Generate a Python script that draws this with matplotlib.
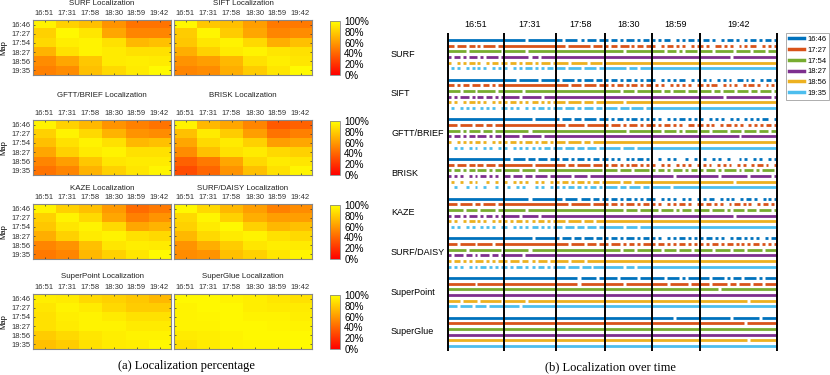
import matplotlib.pyplot as plt
from matplotlib.lines import Line2D
import numpy as np

# Heatmap data: rows = map time, cols = query time, value = % localized
map_times = ['16:46', '17:27', '17:54', '18:27', '18:56', '19:35']
query_times = ['16:51', '17:31', '17:58', '18:30', '18:59', '19:42']
methods = ['SURF', 'SIFT', 'GFTT/BRIEF', 'BRISK', 'KAZE', 'SURF/DAISY', 'SuperPoint', 'SuperGlue']

surf = [[95, 82, 75, 58, 45, 45],
        [82, 97, 90, 65, 52, 52],
        [85, 93, 95, 88, 72, 75],
        [70, 88, 95, 92, 88, 88],
        [55, 65, 78, 92, 93, 92],
        [50, 55, 75, 85, 92, 98]]
sift = [[97, 78, 75, 62, 48, 48],
        [80, 96, 80, 65, 52, 55],
        [78, 90, 95, 85, 68, 75],
        [68, 82, 92, 95, 90, 88],
        [58, 62, 72, 88, 93, 90],
        [52, 55, 68, 80, 90, 98]]
gftt = [[95, 82, 72, 58, 50, 45],
        [82, 95, 85, 70, 58, 55],
        [75, 88, 95, 88, 72, 75],
        [65, 82, 92, 95, 88, 88],
        [52, 62, 78, 90, 92, 92],
        [45, 52, 70, 82, 90, 96]]
brisk = [[95, 72, 65, 52, 35, 38],
         [75, 92, 80, 62, 45, 50],
         [65, 85, 92, 82, 62, 65],
         [55, 75, 88, 92, 85, 82],
         [38, 48, 65, 85, 92, 90],
         [30, 40, 58, 75, 88, 96]]
kaze = [[95, 82, 75, 60, 42, 48],
        [82, 95, 85, 65, 50, 58],
        [78, 90, 95, 85, 65, 70],
        [68, 82, 92, 95, 88, 85],
        [52, 58, 75, 90, 93, 92],
        [48, 52, 72, 82, 90, 98]]
daisy = [[97, 85, 72, 62, 50, 55],
         [85, 96, 82, 68, 62, 62],
         [82, 92, 97, 82, 72, 75],
         [72, 85, 92, 95, 88, 85],
         [58, 68, 80, 90, 93, 92],
         [55, 58, 75, 82, 90, 96]]
superpoint = [[93, 92, 85, 82, 78, 72],
              [90, 95, 92, 85, 80, 80],
              [88, 93, 95, 92, 88, 88],
              [88, 92, 95, 95, 92, 92],
              [80, 85, 90, 93, 95, 95],
              [75, 80, 88, 92, 93, 97]]
superglue = [[97, 97, 95, 93, 90, 88],
             [95, 97, 97, 93, 92, 92],
             [95, 96, 97, 95, 95, 93],
             [95, 95, 97, 97, 96, 95],
             [92, 93, 95, 97, 97, 97],
             [88, 92, 95, 96, 96, 98]]
heatmaps = [surf, sift, gftt, brisk, kaze, daisy, superpoint, superglue]

# Localization over time: frames per query sequence, '#' = localized, '.' = lost
query_frames = [56, 52, 49, 47, 48, 77]
tracks = {
    'SURF': [
        "###################|#######.#########|##.####.#.###.##|#.##.#.###.#.##.|#.#.##..#.#.##.#|.##.#..#.##.#..#.##.#.##.#",
        "##.###.##.#.####.##|#################|###.#######.###.|#.##.###.#.##.##|#..#.##.#.#..#.#|#.#..##.#.#..#.#.##..#.#.#",
        "######.###########.|#######.#########|################|######.#########|####.###.#.####.|####.######.#####.####.###",
        "#.##.#.###.#.####.#|########.##.#####|################|################|################|##########.###############",
        "#..#.#.##.#..#.##.#|#.##.#.##.#.###.#|####.#####.####.|################|################|##########################",
        ".#.#..#.#.#.#..#.#.|#..#.#.##.#.#.##.|###.####.####.##|#######.###.####|################|##########################"],
    'SIFT': [
        "###################|####.######.#####|#.####.#.###.##.|#.##.#.##.#.#.##|#..#.#.#.##..#.#|.#.#..#.#.#..##.#.#..#.##.#",
        "##.#.##.###.##.#.##|#################|####.###.####.##|#.#.##.#.##.#.##|.#.#..#.#.#.#..#|#.#.##..#.#.#..#.##.#..#.#.",
        "####.####.######.##|######.##########|################|#####.####.#####|###.##.####.###.|####.##.####.####.##.####.#",
        "#.#.###.#.##.##.#.#|#####.######.####|################|################|################|########.################.#",
        "#.#..#.##.#.#..#.#.|#.##.#.#.##.#.#.#|###.####.###.###|######.#########|################|##########################",
        ".#..#.#.#..#.#.#..#|#.#.#..#.#.##.#.#|##.###.#.###.##.|####.###.####.##|################|##########################"],
    'GFTT/BRIEF': [
        "###################|#########.#######|#.###.##.####.##|#.#.##.#.##.#.#.|#.#..#.#.##.#.#.|#..#.#.#..#.#..#.#.#.##..#",
        "###.####.###.##.###|#################|###.#####.######|#.###.#.###.#.##|#.#.##.#.#..##.#|#.#.#..#.##.#.#..#.#.#.##.#",
        "####.#.####.###.###|########.########|################|#######.########|###.####.#.####.|###.#####.####.####.###.##",
        "#.##.#.##.###.#.##.|#####.######.####|################|################|################|#############.############",
        "#..#.#.#.##.#..#.#.|#.##.#.##.#.##.#.|###.####.##.####|################|################|##########################",
        "..#.#..#.#..#.#..#.|#..#.#.#.#.#.##.#|##.###.##.###.##|#####.####.#####|################|##########################"],
    'BRISK': [
        "###################|##.####.##.###.##|#.##.#.##.#.##.#|#.#.#..#.#.##.#.|..#..#.#...#..#.|.#..#.#..#...#.#..#.#..#.#",
        "##.###.##.##.###.##|#########.#######|###.##.####.###.|#.##.#.#.##.#.#.|#..#.#..#.#.#..#|.#.#..#.#.#..#.#..#.##.#..#",
        "#.##.#.##.###.#.##.|#####.####.######|###############.|####.####.#####.|#.##.#.###.#.##.|#.###.#.####.#.###.#.####.",
        "#.#.#..#.#.##.#.#..|##.###.##.####.##|#####.####.#####|################|#######.########|######.#########.#######.#",
        ".#..#..#.#...#..#..|#..#.#.#..#.#..#.|#.##.#.##.#.##.#|#####.###.######|################|###########.##############",
        "..#...#..#..#...#..|.#..#.#...#.#..#.|#.#.##.#.#.##.#.|####.##.####.##.|######.#########|##########################"],
    'KAZE': [
        "###################|########.########|##.####.###.##.#|#.##.#.##.#.#.##|#..#.#.#..#.#..#|.#.##..#.#.#..#.##.#..#.#.#",
        "###.####.##.####.##|#################|####.######.####|#.##.#.###.#.##.|#.#..#.#.##.#..#|#.##.#.#..#.##.#.#..#.##.#.",
        "#####.####.#####.##|#######.#########|################|######.####.####|##.####.#.###.##|###.####.#.####.###.####.#",
        "#.##.#.###.#.##.#.#|#####.#####.#####|################|################|################|###########.##############",
        "#.#..#.##.#.#..#.#.|#.#.##.#.#.##.#.#|###.####.###.###|################|################|##########################",
        ".#.#..#.#..#.#.#..#|#..#.#.#.##.#.#.#|##.###.##.###.##|######.####.####|################|##########################"],
    'SURF/DAISY': [
        "###################|#########.#######|#.###.##.###.##.|#.##.#.###.#.##.|#.#..#.#.##.#.#.|#.##.#.#..#.##.#.#.#..#.##",
        "###.#####.#####.###|#################|####.####.###.##|#.###.#.##.#.###|#.##.#.#.##.#.#.|#.#.##.#.##.#.#.#.##.#.#.#",
        "######.###########.|########.########|################|#####.####.#####|###.####.####.##|####.#####.####.#####.####",
        "#.###.##.#.###.##.#|######.##########|################|################|################|##########################",
        "#.##.#.#.###.#.#.##|#.###.##.#.###.##|####.####.######|################|################|##########################",
        "#.#.#..#.#.##.#.#.#|#.#.##.#.#.##.#.#|###.####.###.####|######.###.#####|################|##########################"],
    'SuperPoint': [
        "###################|#################|#######.#####.##|####.######.####|####.####.#.####|###.####.#.###.####.#.####",
        "#########.#########|#################|#######.########|######.#########|#####.######.###|###.#####.##.####.###.####",
        "###################|#################|################|################|################|######.###################",
        "###################|#################|################|################|################|##########################",
        "####.#####.#######.|#######.#########|################|################|################|################.#########",
        "###.####.####.#####|#####.###########|################|################|################|##########################"],
    'SuperGlue': [
        "###################|#################|################|################|#######.########|##########.#########.#####",
        "###################|#################|################|################|################|###############.##########",
        "###################|#################|################|################|################|##########################",
        "###################|#################|################|################|################|##########################",
        "###################|#################|################|################|################|################.#########",
        "###################|#################|################|################|################|##########################"],
}
map_colors = ['#0072BD', '#D95319', '#77AC30', '#7E2F8E', '#EDB120', '#4DBEEE']

W, H = 830, 375
plt.rcParams['font.family'] = ['Liberation Sans', 'DejaVu Sans']


def box(x0, y0, x1, y1):
    return [x0 / W, 1 - y1 / H, (x1 - x0) / W, (y1 - y0) / H]


fig = plt.figure(figsize=(W / 100, H / 100), dpi=100)

# ---- (a) heatmaps
row_tops = [20, 120, 204, 294]
title_gaps = [16, 25, 16, 18]
col_lefts = [33, 174]
hm_w, hm_h = 138, 55
for k, data in enumerate(heatmaps):
    r, c = k // 2, k % 2
    x0, y0 = col_lefts[c], row_tops[r]
    ax = fig.add_axes(box(x0, y0, x0 + hm_w, y0 + hm_h))
    im = ax.imshow(np.array(data), cmap='autumn', vmin=0, vmax=100,
                   aspect='auto', interpolation='nearest')
    ax.xaxis.tick_top()
    ax.set_xticks(range(6))
    ax.set_xticklabels(query_times)
    ax.set_yticks(range(6))
    ax.set_yticklabels(map_times if c == 0 else [])
    ax.tick_params(direction='in', length=1.5, width=0.5, top=True, bottom=True,
                   left=True, right=True, labelsize=5.5, pad=2, colors='#333333')
    for s in ax.spines.values():
        s.set_color('#888888')
        s.set_linewidth(0.8)
    ax.text(0.5, 1 + title_gaps[r] / hm_h, methods[k] + ' Localization', transform=ax.transAxes,
            fontsize=5.7, ha='center', va='center', color='#222222')
    if c == 0:
        ax.set_ylabel('Map', fontsize=5.5, labelpad=3)
    else:
        cax = fig.add_axes(box(330, y0 + 1, 340, y0 + hm_h))
        cb = fig.colorbar(im, cax=cax, ticks=[0, 20, 40, 60, 80, 100], format='%d%%')
        cb.ax.tick_params(labelsize=7, length=0, pad=3)
        cb.outline.set_edgecolor('#888888')
        cb.outline.set_linewidth(0.6)

fig.text(186 / W, 1 - 366 / H, '(a) Localization percentage', family='Liberation Serif',
         fontsize=9, ha='center', va='center')

# ---- (b) localization over time
bounds = np.concatenate([[0], np.cumsum(query_frames)])
total = bounds[-1]
axb = fig.add_axes(box(446, 33, 779, 351))
for g, name in enumerate(methods):
    for m, s in enumerate(tracks[name]):
        y = 7 * g + m
        for q, seg in enumerate(s.split('|')):
            step = query_frames[q] / len(seg)
            i = 0
            while i < len(seg):
                if seg[i] == '#':
                    j = i
                    while j < len(seg) and seg[j] == '#':
                        j += 1
                    axb.hlines(y, bounds[q] + i * step, bounds[q] + j * step,
                               color=map_colors[m], lw=2.0)
                    i = j
                else:
                    i += 1
    axb.text(-57, 7 * g + 2.5, name, fontsize=6.5, ha='left', va='center', clip_on=False)
for b in bounds:
    axb.axvline(b, color='black', lw=1.4)
axb.set_xlim(-2, total + 2)
axb.set_ylim(54.9, -1.25)
axb.xaxis.tick_top()
axb.set_xticks((bounds[:-1] + bounds[1:]) / 2)
axb.set_xticklabels(query_times)
axb.tick_params(axis='x', length=0, labelsize=6.5, pad=3)
axb.set_yticks([])
for s in axb.spines.values():
    s.set_visible(False)

handles = [Line2D([], [], color=col, lw=2.5) for col in map_colors]
leg = fig.legend(handles, map_times, loc='upper left', bbox_to_anchor=(786 / W, 1 - 33 / H),
                 fontsize=5.5, frameon=True, fancybox=False, edgecolor='#888888',
                 handlelength=2.0, labelspacing=0.45, borderpad=0.35, handletextpad=0.4,
                 borderaxespad=0)
leg.get_frame().set_linewidth(0.6)

fig.text(610 / W, 1 - 367 / H, '(b) Localization over time', family='Liberation Serif',
         fontsize=9, ha='center', va='center')

fig.savefig('out.png', dpi=100)
